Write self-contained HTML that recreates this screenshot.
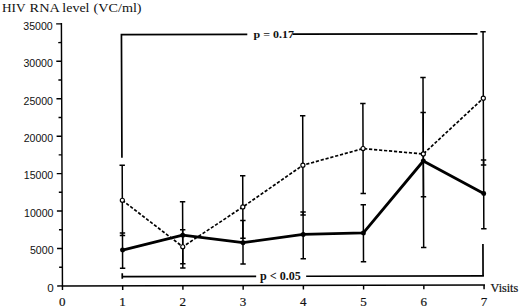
<!DOCTYPE html><html><head><meta charset="utf-8"><style>html,body{margin:0;padding:0;background:#fff;width:520px;height:308px;overflow:hidden}svg{display:block}</style></head><body>
<svg width="520" height="308" viewBox="0 0 520 308">
<rect width="520" height="308" fill="#fff"/>
<g transform="matrix(1,-0.002,0.004,1,-1.1440,0.1240)">
<g stroke="#000" stroke-width="1.45" fill="none">
<path d="M62.45 23.09V286.75M61.60 285.90H485"/>
<path d="M57.2 285.90H62.45"/>
<path d="M57.2 248.47H62.45"/>
<path d="M57.2 211.04H62.45"/>
<path d="M57.2 173.61H62.45"/>
<path d="M57.2 136.18H62.45"/>
<path d="M57.2 98.75H62.45"/>
<path d="M57.2 61.32H62.45"/>
<path d="M57.2 23.89H62.45"/>
<path d="M59.2 267.19H62.45"/>
<path d="M59.2 229.75H62.45"/>
<path d="M59.2 192.32H62.45"/>
<path d="M59.2 154.89H62.45"/>
<path d="M59.2 117.46H62.45"/>
<path d="M59.2 80.03H62.45"/>
<path d="M59.2 42.60H62.45"/>
<path d="M62.45 285.90V290"/>
<path d="M122.68 285.90V290"/>
<path d="M182.91 285.90V290"/>
<path d="M243.14 285.90V290"/>
<path d="M303.37 285.90V290"/>
<path d="M363.60 285.90V290"/>
<path d="M423.83 285.90V290"/>
<path d="M484.06 285.90V290"/>
</g>
<g stroke="#000" stroke-width="1.7" fill="none">
<path d="M122.45 157.8V33.80M121.6 34.65H248.3M293.5 34.65H478.5"/>
<path d="M122.3 273.4V278.9M122.3 276.75H256.2M306.2 276.75H483.95M483.1 277.60V244.8"/>
</g>
<g stroke="#000" stroke-width="1.5" fill="none">
<path d="M122.68 165.32V235.52M119.98 165.32H125.38M119.98 235.52H125.38"/>
<path d="M122.68 233.12V268.32M119.98 233.12H125.38M119.98 268.32H125.38"/>
<path d="M182.91 230.04V263.99M180.21 230.04H185.61M180.21 263.99H185.61"/>
<path d="M182.91 202.04V268.14M180.21 202.04H185.61M180.21 268.14H185.61"/>
<path d="M243.14 176.06V238.56M240.44 176.06H245.84M240.44 238.56H245.84"/>
<path d="M243.14 220.76V264.46M240.44 220.76H245.84M240.44 264.46H245.84"/>
<path d="M303.37 116.18V215.38M300.67 116.18H306.07M300.67 215.38H306.07"/>
<path d="M303.37 212.48V259.28M300.67 212.48H306.07M300.67 259.28H306.07"/>
<path d="M363.60 104.20V194.20M360.90 104.20H366.30M360.90 194.20H366.30"/>
<path d="M363.60 205.30V262.40M360.90 205.30H366.30M360.90 262.40H366.30"/>
<path d="M423.83 113.12V197.52M421.13 113.12H426.53M421.13 197.52H426.53"/>
<path d="M423.83 78.32V248.12M421.13 78.32H426.53M421.13 248.12H426.53"/>
<path d="M484.06 32.54V165.84M481.36 32.54H486.76M481.36 165.84H486.76"/>
<path d="M484.06 160.84V229.64M481.36 160.84H486.76M481.36 229.64H486.76"/>
</g>
<polyline points="122.68,200.42 182.91,247.04 243.14,207.36 303.37,165.68 363.60,149.20 423.83,154.72 484.06,99.04" fill="none" stroke="#000" stroke-width="1.7" stroke-dasharray="3.2 1.8"/>
<polyline points="122.68,250.22 182.91,235.44 243.14,243.06 303.37,234.88 363.60,233.50 423.83,161.72 484.06,194.24" fill="none" stroke="#000" stroke-width="2.8" stroke-linejoin="round"/>
<circle cx="122.68" cy="250.22" r="2.5" fill="#000"/>
<circle cx="182.91" cy="235.44" r="2.5" fill="#000"/>
<circle cx="243.14" cy="243.06" r="2.5" fill="#000"/>
<circle cx="303.37" cy="234.88" r="2.5" fill="#000"/>
<circle cx="363.60" cy="233.50" r="2.5" fill="#000"/>
<circle cx="423.83" cy="161.72" r="2.5" fill="#000"/>
<circle cx="484.06" cy="194.24" r="2.5" fill="#000"/>
<circle cx="122.68" cy="200.42" r="2.05" fill="#fff" stroke="#000" stroke-width="1.15"/>
<circle cx="182.91" cy="247.04" r="2.05" fill="#fff" stroke="#000" stroke-width="1.15"/>
<circle cx="243.14" cy="207.36" r="2.05" fill="#fff" stroke="#000" stroke-width="1.15"/>
<circle cx="303.37" cy="165.68" r="2.05" fill="#fff" stroke="#000" stroke-width="1.15"/>
<circle cx="363.60" cy="149.20" r="2.05" fill="#fff" stroke="#000" stroke-width="1.15"/>
<circle cx="423.83" cy="154.72" r="2.05" fill="#fff" stroke="#000" stroke-width="1.15"/>
<circle cx="484.06" cy="99.04" r="2.05" fill="#fff" stroke="#000" stroke-width="1.15"/>
</g>
<g font-family="Liberation Sans" font-size="11.6" fill="#111" text-anchor="end">
<text x="53.70" y="291.70">0</text>
<text x="53.55" y="254.27" textLength="23.6" lengthAdjust="spacingAndGlyphs">5000</text>
<text x="53.40" y="216.84" textLength="29.4" lengthAdjust="spacingAndGlyphs">10000</text>
<text x="53.25" y="179.41" textLength="29.4" lengthAdjust="spacingAndGlyphs">15000</text>
<text x="53.10" y="141.98" textLength="29.4" lengthAdjust="spacingAndGlyphs">20000</text>
<text x="52.95" y="104.55" textLength="29.4" lengthAdjust="spacingAndGlyphs">25000</text>
<text x="52.80" y="67.12" textLength="29.4" lengthAdjust="spacingAndGlyphs">30000</text>
<text x="52.65" y="29.69" textLength="29.4" lengthAdjust="spacingAndGlyphs">35000</text>
</g>
<g font-family="Liberation Serif" font-size="13" fill="#111" text-anchor="middle" stroke="#111" stroke-width="0.2">
<text x="62.35" y="306.2">0</text>
<text x="122.58" y="306.2">1</text>
<text x="182.81" y="306.2">2</text>
<text x="243.04" y="306.2">3</text>
<text x="303.27" y="306.2">4</text>
<text x="363.50" y="306.2">5</text>
<text x="423.73" y="306.2">6</text>
<text x="483.96" y="306.2">7</text>
</g>
<g font-family="Liberation Serif" font-size="12" fill="#111">
<text x="1.9" y="11.6" textLength="23.6" lengthAdjust="spacingAndGlyphs">HIV</text>
<text x="29.6" y="11.6" textLength="30.2" lengthAdjust="spacingAndGlyphs">RNA</text>
<text x="62.3" y="11.6" textLength="27.2" lengthAdjust="spacingAndGlyphs">level</text>
<text x="93.6" y="11.6" textLength="48.0" lengthAdjust="spacingAndGlyphs">(VC/ml)</text>
</g>
<text x="490.6" y="291.8" font-family="Liberation Serif" font-size="11.6" fill="#111" stroke="#111" stroke-width="0.2" textLength="27.6" lengthAdjust="spacingAndGlyphs">Visits</text>
<g font-family="Liberation Serif" font-weight="bold" font-size="11" fill="#111">
<text x="253.5" y="37.5" textLength="40.4" lengthAdjust="spacingAndGlyphs">p = 0.17</text>
<text x="260" y="279.7" font-size="11.5" textLength="40.8" lengthAdjust="spacingAndGlyphs">p &lt; 0.05</text>
</g>
</svg></body></html>
